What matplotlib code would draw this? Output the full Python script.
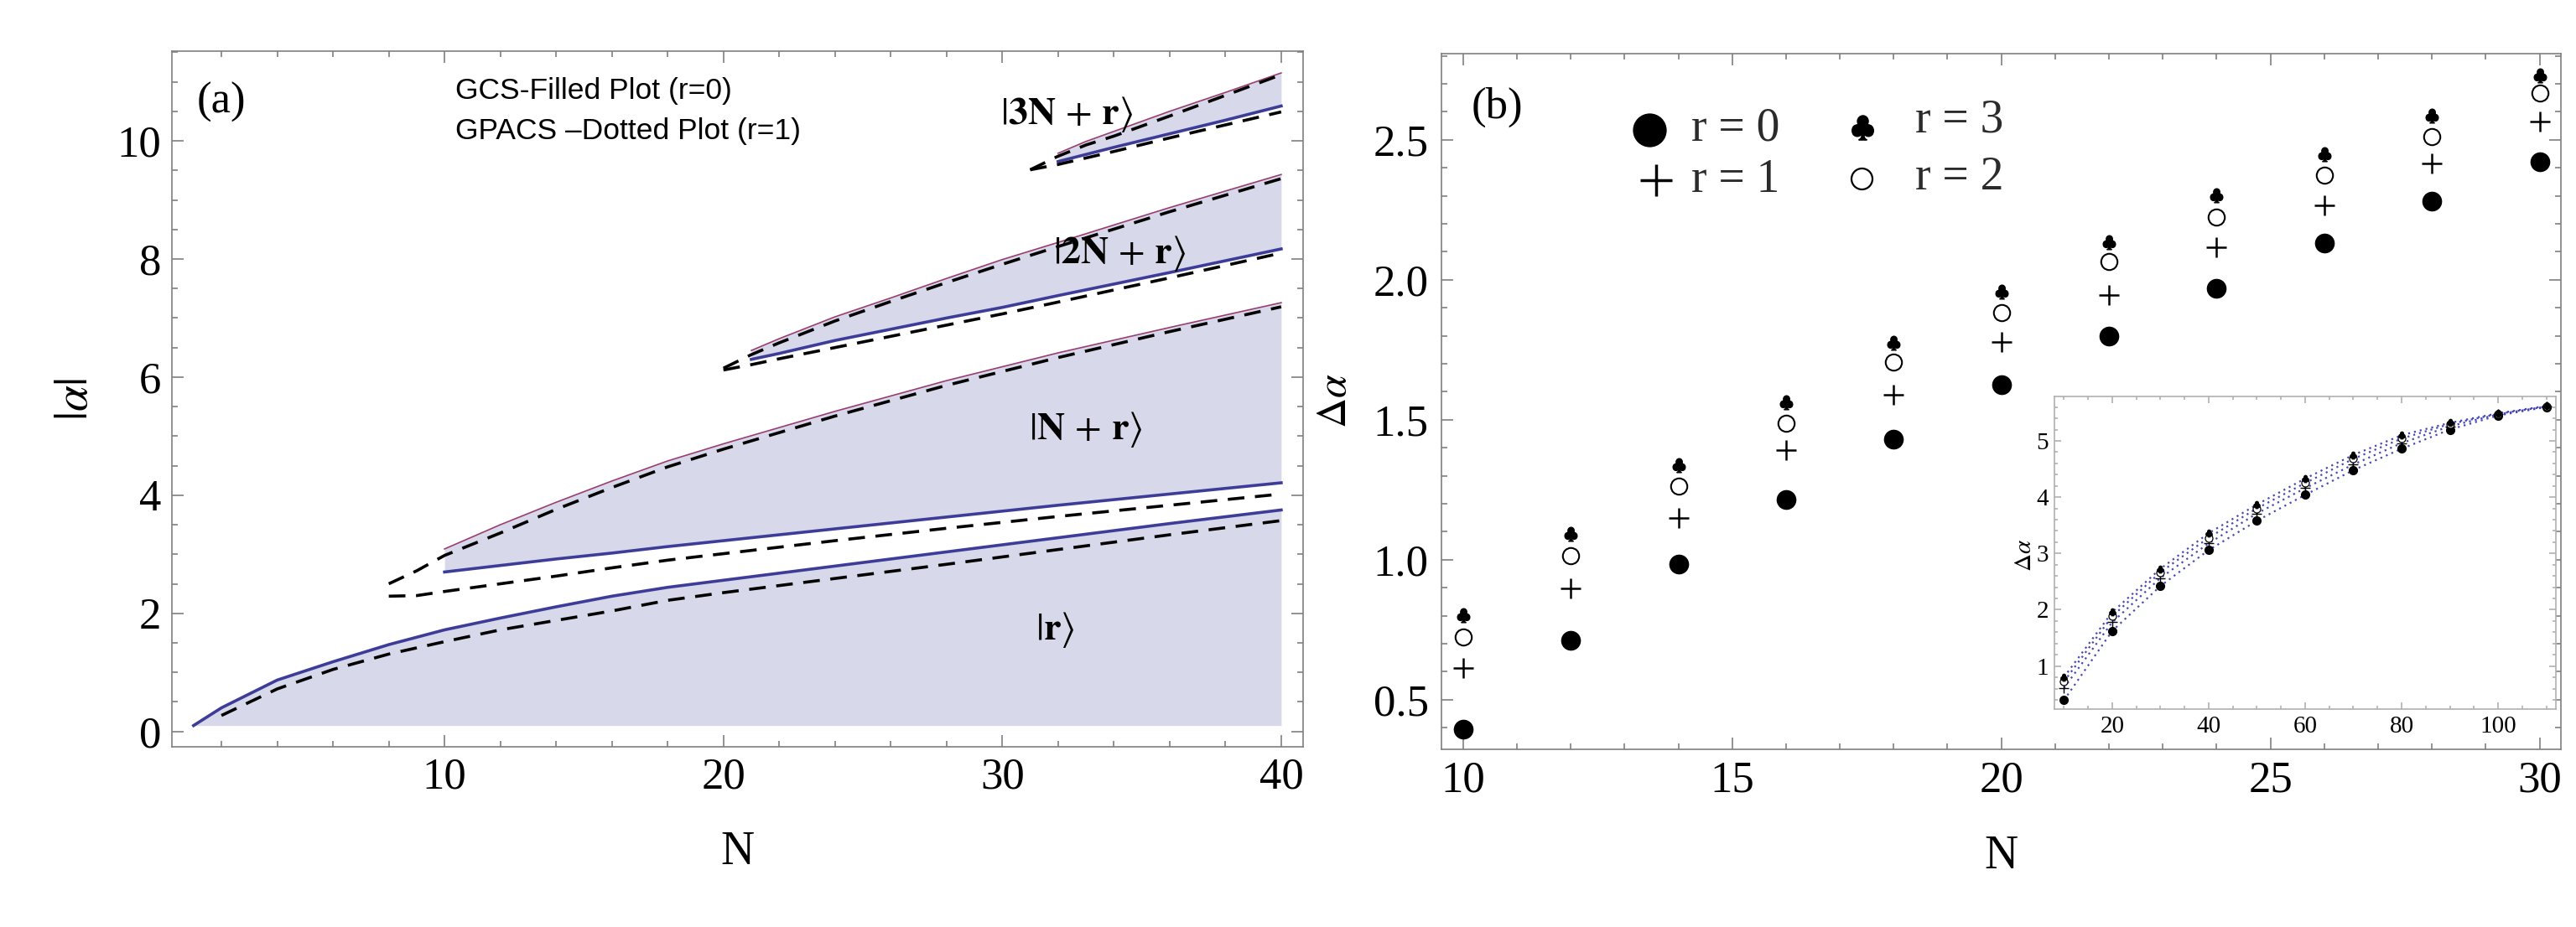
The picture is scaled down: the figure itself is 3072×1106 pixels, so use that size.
import matplotlib
matplotlib.use('Agg')
import matplotlib.pyplot as plt
from matplotlib.ticker import MultipleLocator, FormatStrFormatter

plt.rcParams['mathtext.fontset'] = 'stix'
plt.rcParams['font.family'] = ['Liberation Serif', 'DejaVu Serif']

# ---------------- Panel (a) data ----------------
# GCS (r=0): filled bands, solid lines
N_r0_r = [1, 2, 4, 6, 8, 10, 12, 14, 16, 18, 20, 24, 28, 32, 36, 40]
a_r0_r = [0.10, 0.40, 0.87, 1.18, 1.47, 1.72, 1.92, 2.11, 2.29, 2.44, 2.56, 2.80, 3.04, 3.28, 3.52, 3.75]
fill_base = 0.10

N_r0_N = [10, 12, 14, 16, 18, 20, 24, 28, 32, 36, 40]
a_r0_N_lo = [2.70, 2.81, 2.92, 3.02, 3.13, 3.23, 3.43, 3.63, 3.83, 4.02, 4.21]
a_r0_N_hi = [3.09, 3.50, 3.88, 4.24, 4.58, 4.87, 5.42, 5.94, 6.41, 6.84, 7.26]

N_r0_2N = [21, 22, 24, 26, 28, 30, 32, 36, 40]
a_r0_2N_lo = [6.30, 6.40, 6.62, 6.81, 7.00, 7.18, 7.38, 7.77, 8.17]
a_r0_2N_hi = [6.45, 6.65, 7.02, 7.34, 7.67, 7.99, 8.28, 8.87, 9.43]

N_r0_3N = [32, 33, 34, 36, 38, 40]
a_r0_3N_lo = [9.65, 9.77, 9.89, 10.12, 10.35, 10.59]
a_r0_3N_hi = [9.79, 9.99, 10.16, 10.50, 10.82, 11.15]

# GPACS (r=1): dashed lines
N_r1_r = [2, 4, 6, 8, 10, 12, 14, 16, 18, 20, 24, 28, 32, 36, 40]
a_r1_r = [0.27, 0.72, 1.05, 1.31, 1.52, 1.72, 1.88, 2.04, 2.22, 2.35, 2.59, 2.83, 3.08, 3.33, 3.57]

N_r1_N = [8, 9, 10, 12, 14, 16, 18, 20, 24, 28, 32, 36, 40]
a_r1_N_lo = [2.29, 2.30, 2.37, 2.50, 2.63, 2.77, 2.90, 3.01, 3.23, 3.44, 3.64, 3.83, 4.02]
a_r1_N_hi = [2.50, 2.72, 2.98, 3.36, 3.76, 4.13, 4.48, 4.78, 5.34, 5.86, 6.33, 6.77, 7.19]

N_r1_2N = [20, 21, 22, 24, 26, 28, 30, 32, 36, 40]
a_r1_2N_lo = [6.12, 6.21, 6.31, 6.50, 6.69, 6.88, 7.07, 7.27, 7.68, 8.10]
a_r1_2N_hi = [6.15, 6.38, 6.58, 6.95, 7.28, 7.60, 7.91, 8.21, 8.80, 9.36]

N_r1_3N = [31, 32, 33, 34, 36, 38, 40]
a_r1_3N_lo = [9.51, 9.60, 9.71, 9.82, 10.05, 10.27, 10.49]
a_r1_3N_hi = [9.51, 9.74, 9.93, 10.08, 10.42, 10.77, 11.12]

# ---------------- Panel (b) data ----------------
N_b = [10, 12, 14, 16, 18, 20, 22, 24, 26, 28, 30]
da_r0 = [0.395, 0.713, 0.985, 1.214, 1.432, 1.624, 1.800, 1.970, 2.130, 2.280, 2.422]
da_r1 = [0.612, 0.898, 1.150, 1.391, 1.589, 1.778, 1.946, 2.116, 2.265, 2.415, 2.564]
da_r2 = [0.725, 1.015, 1.263, 1.488, 1.705, 1.884, 2.065, 2.223, 2.373, 2.511, 2.666]
da_r3 = [0.803, 1.092, 1.337, 1.561, 1.776, 1.957, 2.135, 2.301, 2.449, 2.587, 2.729]

# inset data
N_in = [10, 20, 30, 40, 50, 60, 70, 80, 90, 100, 110]
in_r0 = [0.395, 1.624, 2.422, 3.06, 3.58, 4.04, 4.48, 4.86, 5.20, 5.45, 5.60]
in_r1 = [0.612, 1.778, 2.564, 3.18, 3.71, 4.16, 4.58, 4.96, 5.26, 5.47, 5.61]
in_r2 = [0.725, 1.884, 2.666, 3.28, 3.80, 4.25, 4.68, 5.04, 5.30, 5.48, 5.61]
in_r3 = [0.803, 1.957, 2.729, 3.36, 3.87, 4.33, 4.75, 5.10, 5.32, 5.49, 5.62]

# ---------------- styles ----------------
BLUE = '#3d3d99'
MAG = '#993d71'
FILL = '#d8d8eb'
FRAME = '#7f7f7f'
DASH = (0, (5.5, 3.5))

fig = plt.figure(figsize=(30.72, 11.06), dpi=100)
axL = fig.add_axes([0.0667, 0.1944, 0.4391, 0.7505])
axR = fig.add_axes([0.5596, 0.1917, 0.4346, 0.7505])
axI = fig.add_axes([0.7975, 0.2351, 0.1947, 0.3373])


def frame_style(ax, color, lw, maj, mnr, size, padx, pady):
    for s in ax.spines.values():
        s.set_color(color)
        s.set_linewidth(lw)
    ax.tick_params(which='both', direction='in', top=True, right=True,
                   color=color, width=lw)
    ax.tick_params(which='major', length=maj, labelsize=size)
    ax.tick_params(which='minor', length=mnr)
    ax.tick_params(axis='x', which='major', pad=padx)
    ax.tick_params(axis='y', which='major', pad=pady)


# ---------------- Panel (a) ----------------
ax = axL
ax.fill_between(N_r0_r, fill_base, a_r0_r, color=FILL, lw=0, zorder=1)
ax.fill_between(N_r0_N, a_r0_N_lo, a_r0_N_hi, color=FILL, lw=0, zorder=1)
ax.fill_between(N_r0_2N, a_r0_2N_lo, a_r0_2N_hi, color=FILL, lw=0, zorder=1)
ax.fill_between(N_r0_3N, a_r0_3N_lo, a_r0_3N_hi, color=FILL, lw=0, zorder=1)

ax.plot(N_r0_r, a_r0_r, color=BLUE, lw=2.6, zorder=2)
for Nn, lo, hi in [(N_r0_N, a_r0_N_lo, a_r0_N_hi),
                   (N_r0_2N, a_r0_2N_lo, a_r0_2N_hi),
                   (N_r0_3N, a_r0_3N_lo, a_r0_3N_hi)]:
    ax.plot(Nn, lo, color=BLUE, lw=2.6, zorder=2)
    ax.plot(Nn, hi, color=MAG, lw=1.2, zorder=2)

ax.plot(N_r1_r, a_r1_r, color='black', lw=2.6, ls=DASH, zorder=3)
for Nn, lo, hi in [(N_r1_N, a_r1_N_lo, a_r1_N_hi),
                   (N_r1_2N, a_r1_2N_lo, a_r1_2N_hi),
                   (N_r1_3N, a_r1_3N_lo, a_r1_3N_hi)]:
    ax.plot(Nn, lo, color='black', lw=2.6, ls=DASH, zorder=3)
    ax.plot(Nn, hi, color='black', lw=2.6, ls=DASH, zorder=3)

ax.set_xlim(0.22, 40.78)
ax.set_ylim(-0.26, 11.52)
ax.xaxis.set_major_locator(MultipleLocator(10))
ax.xaxis.set_minor_locator(MultipleLocator(2))
ax.yaxis.set_major_locator(MultipleLocator(2))
ax.yaxis.set_minor_locator(MultipleLocator(0.5))
frame_style(ax, FRAME, 1.2, 10, 5, 38, 9, 9)

ax.set_xlabel('N', fontsize=40)
ax.xaxis.set_label_coords(0.5, -0.152)
ax.xaxis.label.set_va('center')
ax.set_ylabel(r'$|\alpha|$', fontsize=40)
ax.yaxis.set_label_coords(-0.085, 0.5)
ax.yaxis.label.set_va('center')

ax.text(2.0, 10.65, '(a)', fontsize=38, ha='center', va='center')
SANS = ['Liberation Sans', 'DejaVu Sans']
ax.text(10.39, 10.85, 'GCS-Filled Plot (r=0)', fontsize=25.5, ha='left', va='center', family=SANS)
ax.text(10.39, 10.16, 'GPACS \u2013Dotted Plot (r=1)', fontsize=25.5, ha='left', va='center', family=SANS)
ax.text(32.3, 10.45, r'$|\mathbf{3N}\,+\,\mathbf{r}\rangle$', fontsize=33, ha='center', va='center')
ax.text(34.2, 8.09, r'$|\mathbf{2N}\,+\,\mathbf{r}\rangle$', fontsize=33, ha='center', va='center')
ax.text(33.0, 5.11, r'$|\mathbf{N}\,+\,\mathbf{r}\rangle$', fontsize=33, ha='center', va='center')
ax.text(31.9, 1.72, r'$|\mathbf{r}\rangle$', fontsize=33, ha='center', va='center')

# ---------------- Panel (b) ----------------
ax = axR
CLUB = r'$\clubsuit$'
ax.plot(N_b, da_r0, ls='none', marker='o', ms=16, mfc='black', mec='black')
ax.plot(N_b, da_r1, ls='none', marker='+', ms=17, mew=1.8, color='black')
ax.plot(N_b, da_r2, ls='none', marker='o', ms=14, mfc='white', mec='black', mew=1.5)
ax.plot(N_b, da_r3, ls='none', marker=CLUB, ms=12, color='black')

ax.set_xlim(9.6, 30.4)
ax.set_ylim(0.323, 2.808)
ax.xaxis.set_major_locator(MultipleLocator(5))
ax.xaxis.set_minor_locator(MultipleLocator(1))
ax.yaxis.set_major_locator(MultipleLocator(0.5))
ax.yaxis.set_minor_locator(MultipleLocator(0.1))
frame_style(ax, FRAME, 1.2, 10, 5, 38, 10, 11)
ax.yaxis.set_major_formatter(FormatStrFormatter('%.1f'))

ax.set_xlabel('N', fontsize=40)
ax.xaxis.set_label_coords(0.5, -0.154)
ax.xaxis.label.set_va('center')
ax.set_ylabel(r'$\Delta\alpha$', fontsize=36)
ax.yaxis.set_label_coords(-0.095, 0.501)
ax.yaxis.label.set_va('center')

ax.text(10.64, 2.617, '(b)', fontsize=38, ha='center', va='center')

# custom legend
T = ax.transAxes
LEGC = '#2b2b2b'
ax.plot([0.186], [0.890], transform=T, marker='o', ms=28, color='black', ls='none')
ax.plot([0.192], [0.818], transform=T, marker='+', ms=27, mew=2.5, color='black', ls='none')
ax.plot([0.376], [0.894], transform=T, marker=CLUB, ms=21, color='black', ls='none')
ax.plot([0.375], [0.820], transform=T, marker='o', ms=18, mfc='white', mec='black', mew=1.6, ls='none')
ax.text(0.223, 0.892, 'r = 0', transform=T, fontsize=40, color=LEGC, ha='left', va='center')
ax.text(0.223, 0.818, 'r = 1', transform=T, fontsize=40, color=LEGC, ha='left', va='center')
ax.text(0.423, 0.904, 'r = 3', transform=T, fontsize=40, color=LEGC, ha='left', va='center')
ax.text(0.423, 0.822, 'r = 2', transform=T, fontsize=40, color=LEGC, ha='left', va='center')

# ---------------- Inset ----------------
ax = axI
ax.set_facecolor('white')
DOT = (0, (1, 2.2))
for ys in (in_r0, in_r1, in_r2, in_r3):
    ax.plot(N_in, ys, color='#4646b4', lw=1.6, ls=DOT, zorder=1)
ax.plot(N_in, in_r0, ls='none', marker='o', ms=7, color='black', zorder=3)
ax.plot(N_in, in_r1, ls='none', marker='+', ms=8, mew=1.0, color='black', zorder=3)
ax.plot(N_in, in_r2, ls='none', marker='o', ms=6.5, mfc='white', mec='black', mew=0.9, zorder=3)
ax.plot(N_in, in_r3, ls='none', marker=CLUB, ms=6, color='black', zorder=3)
ax.set_xlim(8, 112)
ax.set_ylim(0.236, 5.79)
ax.xaxis.set_major_locator(MultipleLocator(20))
ax.xaxis.set_minor_locator(MultipleLocator(5))
ax.yaxis.set_major_locator(MultipleLocator(1))
ax.yaxis.set_minor_locator(MultipleLocator(0.2))
frame_style(ax, '#b0b0b0', 1.2, 6, 3, 21, 6, 5)
ax.set_ylabel(r'$\Delta\alpha$', fontsize=21)
ax.yaxis.set_label_coords(-0.059, 0.493)
ax.yaxis.label.set_va('center')

fig.savefig('out.png', dpi=100)
